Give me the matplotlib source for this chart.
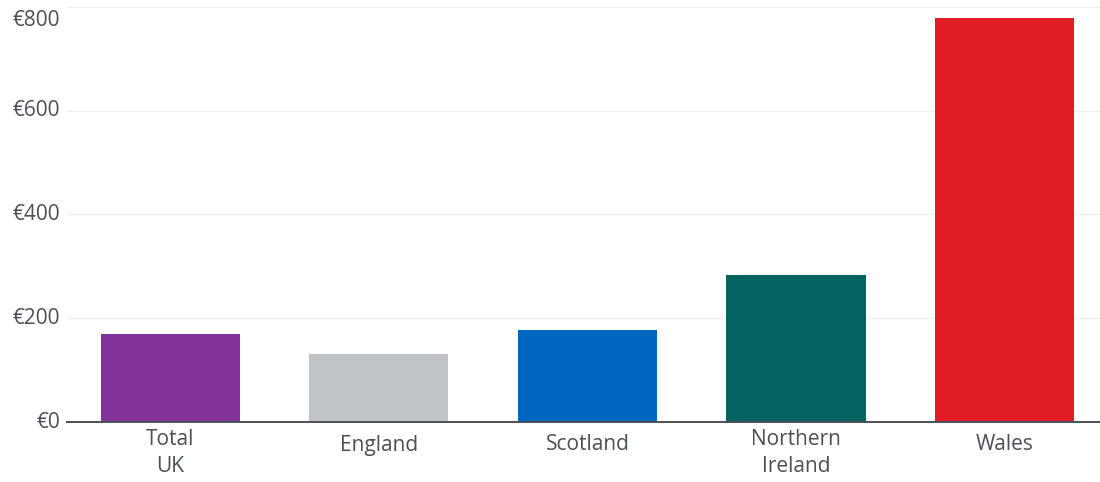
import matplotlib
matplotlib.use("Agg")
import matplotlib.pyplot as plt
import matplotlib.transforms as mtransforms

categories = ["Total\nUK", "England", "Scotland", "Northern\nIreland", "Wales"]
values = [170, 131, 177, 283, 779]
bar_colors = ["#82329a", "#c1c4c6", "#0066bf", "#036361", "#e01c24"]
yticks = [0, 200, 400, 600, 800]
ytick_labels = ["€0", "€200", "€400", "€600", "€800"]

text_color = "#4a5058"
plt.rcParams["font.family"] = ["Open Sans", "DejaVu Sans"]

fig = plt.figure(figsize=(11, 4.82), dpi=100)
ax = fig.add_axes([67 / 1100, 60 / 482, 1 - 67 / 1100, 415 / 482])

x = list(range(len(categories)))
ax.bar(x, values, width=0.667, color=bar_colors, zorder=2)

ax.set_xlim(-0.496, 4.458)
ax.set_ylim(0, 800)
ax.set_yticks(yticks)
ax.set_xticks(x)
ax.set_xticklabels([])
ax.set_yticklabels([])

ax.grid(axis="y", color="#efefef", linewidth=1, zorder=0)
for side in ["top", "right", "left"]:
    ax.spines[side].set_visible(False)
ax.spines["bottom"].set_color(text_color)
ax.spines["bottom"].set_linewidth(1.4)
ax.spines["bottom"].set_zorder(3)
ax.tick_params(axis="both", length=0)

# y labels: right of them ends just left of the axes, top one drops below its line
ytrans = ax.get_yaxis_transform()
for val, lab in zip(yticks, ytick_labels):
    if val == yticks[-1]:
        tr = mtransforms.offset_copy(ytrans, fig=fig, x=-7, y=-3, units="dots")
        va = "top"
    else:
        tr = mtransforms.offset_copy(ytrans, fig=fig, x=-7, y=0, units="dots")
        va = "center"
    ax.text(0, val, lab, transform=tr, ha="right", va=va,
            fontsize=15, color=text_color)

# x labels, single-line ones sit a little higher than two-line blocks
xtrans = ax.get_xaxis_transform()
for pos, lab in zip(x, categories):
    nlines = lab.count("\n") + 1
    tr = mtransforms.offset_copy(xtrans, fig=fig, x=0, y=-(15 + 8 * nlines), units="dots")
    ax.text(pos, 0, lab, transform=tr, ha="center", va="center",
            fontsize=15, color=text_color, linespacing=1.35, multialignment="center")

fig.savefig("out.png", dpi=100)
